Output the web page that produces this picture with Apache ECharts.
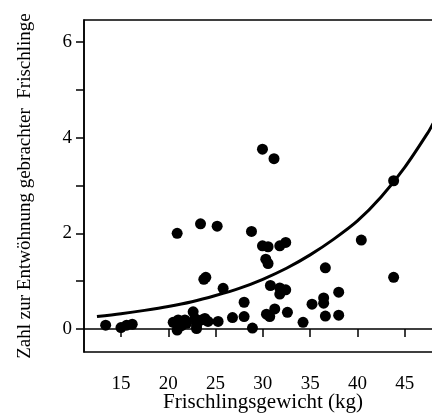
<!DOCTYPE html>
<html>
<head>
<meta charset="utf-8">
<script src="https://cdn.jsdelivr.net/npm/echarts@6/dist/echarts.min.js"></script>
<style>
html,body{margin:0;padding:0;background:#fff;overflow:hidden;width:432px;height:415px;}
#c{width:460px;height:415px;}
</style>
</head>
<body>
<div id="c"></div>
<script>
// Data
var weightKg = [13.38,15.0,15.6,16.19,20.94,23.41,25.17,23.76,23.97,25.8,28.8,29.96,31.18,29.96,30.55,31.79,32.42,30.31,30.55,30.8,31.79,32.42,31.79,36.61,40.41,43.83,43.83,38.02,36.43,36.43,35.2,36.61,38.02,34.25,32.6,30.38,30.73,31.26,28.9,28.02,28.02,26.79,25.27,24.2,23.87,23.52,22.99,22.99,22.81,22.63,21.93,21.76,21.41,21.05,20.52,20.94];
var weanedCount = [0.08,0.03,0.08,0.10,2.0,2.2,2.15,1.04,1.08,0.85,2.04,3.76,3.56,1.74,1.72,1.74,1.81,1.46,1.37,0.91,0.86,0.82,0.73,1.28,1.86,3.10,1.08,0.77,0.65,0.54,0.52,0.27,0.29,0.14,0.35,0.31,0.26,0.42,0.02,0.56,0.26,0.24,0.16,0.16,0.22,0.19,0.07,0.01,0.22,0.36,0.12,0.19,0.07,0.19,0.14,-0.02];
var curveX = [12.46,15,17.5,20,22.5,25,27.5,30,32.5,35,37.5,40,42.5,45,47.5,48];
var curveY = [0.26,0.32,0.39,0.47,0.57,0.70,0.85,1.04,1.27,1.55,1.88,2.26,2.76,3.38,4.12,4.30];
var xTickLabels = [15,20,25,30,35,40,45];
var yTickMarks = [0,1,2,3,4,5,6];
var yTickLabels = [0,2,4,6];
var xTitle = 'Frischlingsgewicht (kg)';
var yTitle = 'Zahl zur Entwöhnung gebrachter  Frischlinge';

var points = weightKg.map(function(x,i){return [x, weanedCount[i]];});
var curve = curveX.map(function(x,i){return [x, curveY[i]];});
var font = '"Liberation Serif","DejaVu Serif",serif';

var chart = echarts.init(document.getElementById('c'), null, {renderer:'canvas'});
chart.setOption({
  animation:false,
  backgroundColor:'#fff',
  grid:{left:84, top:20, right:8, bottom:63, outerBoundsMode:'none', containLabel:false, show:true, borderColor:'#000', borderWidth:1.5, backgroundColor:'transparent'},
  xAxis:{
    type:'value', min:11.09, max:50,
    name:xTitle, nameLocation:'middle', nameGap:40, nameMoveOverlap:false,
    nameTextStyle:{fontFamily:font, fontSize:21, color:'#000', padding:[0,10,0,0]},
    axisLine:{show:true, lineStyle:{color:'#000', width:1.5}},
    axisTick:{show:true, inside:false, length:8, lineStyle:{color:'#000', width:1.5}, customValues:xTickLabels},
    axisLabel:{fontFamily:font, fontSize:19, color:'#000', margin:23, customValues:xTickLabels},
    splitLine:{show:false}
  },
  yAxis:{
    type:'value', min:-0.48, max:6.46,
    name:yTitle, nameLocation:'middle', nameGap:49,
    nameTextStyle:{fontFamily:font, fontSize:19, color:'#000'},
    axisLine:{show:true, lineStyle:{color:'#000', width:1.5}},
    axisTick:{show:true, inside:false, length:8, lineStyle:{color:'#000', width:1.5}, customValues:yTickMarks},
    axisLabel:{fontFamily:font, fontSize:19, color:'#000', margin:12, customValues:yTickLabels},
    splitLine:{show:false}
  },
  series:[
    {type:'scatter', data:points, symbol:'circle', symbolSize:11, itemStyle:{color:'#000', opacity:1}, z:3},
    {type:'line', data:curve, smooth:0.3, showSymbol:false, symbol:'none', lineStyle:{color:'#000', width:3}, z:2}
  ]
});
</script>
</body>
</html>
